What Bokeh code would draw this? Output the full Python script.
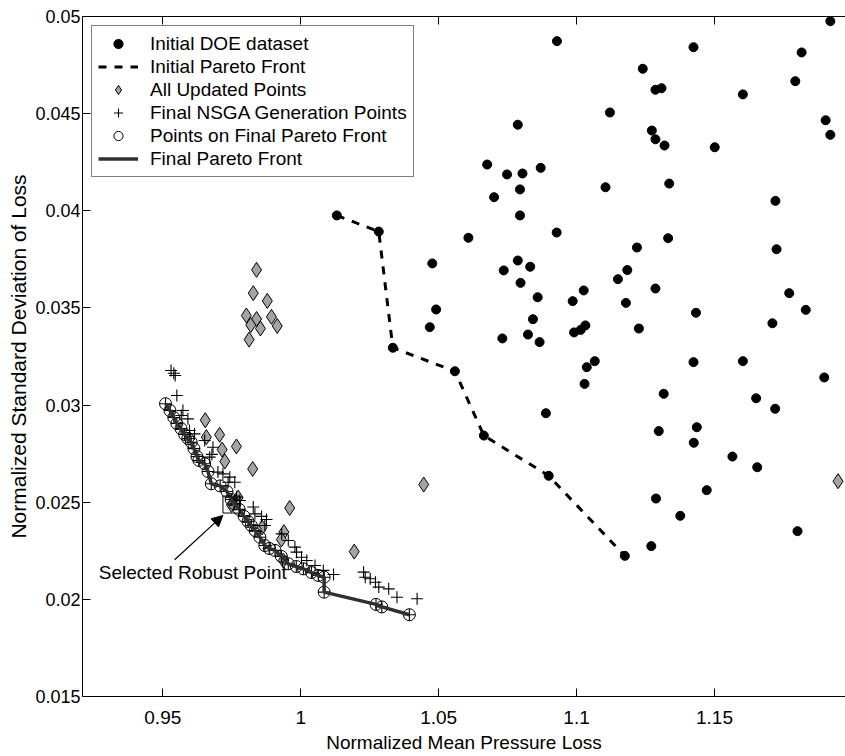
from bokeh.plotting import figure
from bokeh.models import LinearAxis, FixedTicker, Arrow, NormalHead, Label
from bokeh.embed import file_html
from bokeh.resources import INLINE

FONT = "Liberation Sans"

# ---------------- data ----------------
doe_x = [1.1920, 1.0929, 1.1424, 1.1816, 1.1240, 1.1793, 1.1286, 1.1308, 1.1603, 1.1121,
         1.1903, 1.0787, 1.1920, 1.1273, 1.1286, 1.1319, 1.1501, 1.0676, 1.0748, 1.0804,
         1.0870, 1.0701, 1.0795, 1.1105, 1.1336, 1.1721, 1.0795, 1.0928, 1.1332, 1.1219,
         1.1725, 1.0787, 1.0832, 1.0736, 1.1184, 1.0797, 1.0859, 1.0842, 1.0731, 1.0824,
         1.0866, 1.1026, 1.0986, 1.1150, 1.1179, 1.1286, 1.1433, 1.1032, 1.1015, 1.0991,
         1.1226, 1.1066, 1.1037, 1.1029, 1.1424, 1.1603, 1.1771, 1.1831, 1.1710, 1.1898,
         1.1316, 1.1651, 1.1720, 1.0889, 1.1298, 1.1436, 1.1425, 1.1565, 1.1655, 1.1472,
         1.1288, 1.1376, 1.1801, 1.1271, 1.1175, 1.0664, 1.0899, 1.0131, 1.0283, 1.0608,
         1.0477, 1.0491, 1.0468, 1.0334, 1.0559]
doe_y = [0.04976, 0.04873, 0.04842, 0.04815, 0.04731, 0.04667, 0.04623, 0.04631, 0.04599, 0.04506,
         0.04466, 0.04443, 0.04391, 0.04413, 0.04368, 0.04336, 0.04327, 0.04238, 0.04187, 0.04192,
         0.04221, 0.04070, 0.04110, 0.04121, 0.04140, 0.04051, 0.03976, 0.03888, 0.03859, 0.03811,
         0.03802, 0.03744, 0.03712, 0.03693, 0.03695, 0.03629, 0.03555, 0.03442, 0.03343, 0.03363,
         0.03324, 0.03590, 0.03535, 0.03648, 0.03526, 0.03600, 0.03475, 0.03410, 0.03387, 0.03374,
         0.03394, 0.03226, 0.03195, 0.03109, 0.03221, 0.03226, 0.03576, 0.03490, 0.03421, 0.03142,
         0.03058, 0.03035, 0.02981, 0.02958, 0.02866, 0.02886, 0.02806, 0.02735, 0.02680, 0.02562,
         0.02519, 0.02430, 0.02351, 0.02274, 0.02224, 0.02843, 0.02636, 0.03976, 0.03893, 0.03861,
         0.03729, 0.03492, 0.03401, 0.03295, 0.03174]

init_front_x = [1.0131, 1.0283, 1.0334, 1.0559, 1.0664, 1.0899, 1.1175]
init_front_y = [0.03976, 0.03893, 0.03295, 0.03174, 0.02843, 0.02636, 0.02224]

updated_x = [0.9840, 0.9828, 0.9879, 0.9803, 0.9840, 0.9819, 0.9854, 0.9894, 0.9915, 0.9813,
             0.9654, 0.9706, 0.9767, 0.9715, 0.9725, 0.9826, 0.9960, 0.9749, 0.9939, 0.9930,
             0.9937, 1.0194, 1.0446, 1.1948, 0.9658, 0.9773, 0.9860]
updated_y = [0.03696, 0.03576, 0.03536, 0.03461, 0.03443, 0.03412, 0.03394, 0.03454, 0.03407, 0.03337,
             0.02922, 0.02847, 0.02787, 0.02771, 0.02710, 0.02671, 0.02470, 0.02486, 0.02346, 0.02308,
             0.02200, 0.02246, 0.02591, 0.02608, 0.02835, 0.02524, 0.02370]

front_x = [0.9510, 0.9526, 0.9540, 0.9551, 0.9566, 0.9579, 0.9591, 0.9603, 0.9613, 0.9624,
           0.9631, 0.9652, 0.9664, 0.9676, 0.9708, 0.9733, 0.9748, 0.9761, 0.9777, 0.9795,
           0.9809, 0.9821, 0.9835, 0.9852, 0.9870, 0.9886, 0.9907, 0.9930, 0.9955, 0.9984,
           1.0010, 1.0039, 1.0064, 1.0085, 1.0085, 1.0273, 1.0294, 1.0394]
front_y = [0.03007, 0.02972, 0.02936, 0.02905, 0.02879, 0.02849, 0.02828, 0.02809, 0.02776, 0.02735,
           0.02715, 0.02698, 0.02658, 0.02595, 0.02584, 0.02555, 0.02514, 0.02491, 0.02463, 0.02427,
           0.02401, 0.02380, 0.02354, 0.02320, 0.02277, 0.02262, 0.02252, 0.02221, 0.02183, 0.02169,
           0.02157, 0.02138, 0.02123, 0.02114, 0.02037, 0.01974, 0.01961, 0.01921]

nsga_extra_x = [0.9530, 0.9540, 0.9545, 0.9551, 0.9573, 0.9591, 0.9567, 0.9597, 0.9615, 0.9652,
                0.9682, 0.9678, 0.9670, 0.9700, 0.9718, 0.9743, 0.9761, 0.9737, 0.9767, 0.9779,
                0.9828, 0.9834, 0.9858, 0.9876, 0.9870, 0.9931, 0.9955, 0.9979, 0.9985, 1.0003,
                1.0022, 1.0052, 1.0082, 1.0119, 1.0228, 1.0234, 1.0252, 1.0271, 1.0283, 1.0319,
                1.0349, 1.0422]
nsga_extra_y = [0.03178, 0.03164, 0.03152, 0.03049, 0.02972, 0.02929, 0.02946, 0.02869, 0.02852, 0.02818,
                0.02783, 0.02746, 0.02732, 0.02655, 0.02646, 0.02629, 0.02603, 0.02603, 0.02526, 0.02509,
                0.02475, 0.02440, 0.02427, 0.02411, 0.02380, 0.02337, 0.02303, 0.02269, 0.02243, 0.02217,
                0.02200, 0.02174, 0.02149, 0.02128, 0.02140, 0.02114, 0.02106, 0.02088, 0.02063, 0.02054,
                0.02011, 0.02003]
nsga_x = front_x + nsga_extra_x
nsga_y = front_y + nsga_extra_y

selected_x = [0.9749]
selected_y = [0.02488]

x_ticks = [0.95, 1.0, 1.05, 1.1, 1.15]
x_tick_labels = ["0.95", "1", "1.05", "1.1", "1.15"]
y_ticks = [0.015, 0.02, 0.025, 0.03, 0.035, 0.04, 0.045, 0.05]
y_tick_labels = ["0.015", "0.02", "0.025", "0.03", "0.035", "0.04", "0.045", "0.05"]

annot_text = "Selected Robust Point"
annot_pos = (0.9268, 0.0214)
arrow_tail = (0.9543, 0.02204)
arrow_head = (0.9718, 0.02432)

# ---------------- figure ----------------
p = figure(width=845, height=756, x_range=(0.9209, 1.1975), y_range=(0.015, 0.05),
           output_backend="svg", toolbar_location=None,
           min_border_left=82, min_border_right=0, min_border_top=16, min_border_bottom=60)
p.grid.visible = False
p.outline_line_color = None
p.background_fill_color = "white"
p.border_fill_color = "white"

xa = p.xaxis[0]
xa.ticker = FixedTicker(ticks=x_ticks)
xa.major_label_overrides = dict(zip(x_ticks, x_tick_labels))
xa.axis_label = "Normalized Mean Pressure Loss"
ya = p.yaxis[0]
ya.ticker = FixedTicker(ticks=y_ticks)
ya.major_label_overrides = dict(zip(y_ticks, y_tick_labels))
ya.axis_label = "Normalized Standard Deviation of Loss"

for ax in (xa, ya):
    ax.axis_line_color = "black"
    ax.major_tick_line_color = "black"
    ax.major_tick_in = 8
    ax.major_tick_out = 0
    ax.minor_tick_line_color = None
    ax.major_label_text_font = FONT
    ax.major_label_text_color = "black"
    ax.axis_label_text_font = FONT
    ax.axis_label_text_font_style = "normal"
    ax.axis_label_text_color = "black"
xa.major_label_text_font_size = "19px"
xa.axis_label_text_font_size = "19px"
xa.major_label_standoff = 14
xa.axis_label_standoff = 5
ya.major_label_text_font_size = "18px"
ya.axis_label_text_font_size = "21px"
ya.major_label_standoff = 2
ya.axis_label_standoff = 2

top = LinearAxis(ticker=FixedTicker(ticks=x_ticks), major_tick_in=8, major_tick_out=0,
                 major_label_text_font_size="0px", major_label_text_color=None,
                 major_label_standoff=0, minor_tick_line_color=None,
                 axis_line_color="black", major_tick_line_color="black")
p.add_layout(top, "above")

# ---------------- glyphs ----------------
p.scatter(doe_x, doe_y, marker="circle", size=9, fill_color="black", line_color="black",
          legend_label="Initial DOE dataset")
p.line(init_front_x, init_front_y, line_color="black", line_width=3, line_dash="8 8",
       legend_label="Initial Pareto Front")
p.scatter(updated_x, updated_y, marker="diamond", size=15, fill_color="#a4a4a4",
          line_color="black", line_width=1, legend_label="All Updated Points")
p.scatter(nsga_x, nsga_y, marker="cross", size=12, line_color="black", line_width=1.1,
          legend_label="Final NSGA Generation Points")
p.scatter(front_x, front_y, marker="circle", size=12, fill_color=None, line_color="black",
          line_width=1, legend_label="Points on Final Pareto Front")
p.line(front_x, front_y, line_color="#303030", line_width=3.5, legend_label="Final Pareto Front")
p.scatter(selected_x, selected_y, marker="square", size=17, fill_color=None,
          line_color="black", line_width=1)

p.add_layout(Arrow(end=NormalHead(size=11, fill_color="black", line_color="black"),
                   x_start=arrow_tail[0], y_start=arrow_tail[1],
                   x_end=arrow_head[0], y_end=arrow_head[1],
                   line_color="black", line_width=1.2))
p.add_layout(Label(x=annot_pos[0], y=annot_pos[1], text=annot_text, text_font=FONT,
                   text_font_size="19px", text_baseline="middle", text_align="left",
                   text_color="black"))

lg = p.legend[0]
lg.location = "top_left"
lg.margin = 9
lg.padding = 6
lg.spacing = 0
lg.glyph_height = 23
lg.label_height = 23
lg.glyph_width = 40
lg.label_standoff = 12
lg.label_text_font = FONT
lg.label_text_font_size = "19px"
lg.label_text_color = "black"
lg.border_line_color = "black"
lg.border_line_width = 1
lg.background_fill_alpha = 1.0

open("out.html", "w").write(file_html(p, INLINE))
